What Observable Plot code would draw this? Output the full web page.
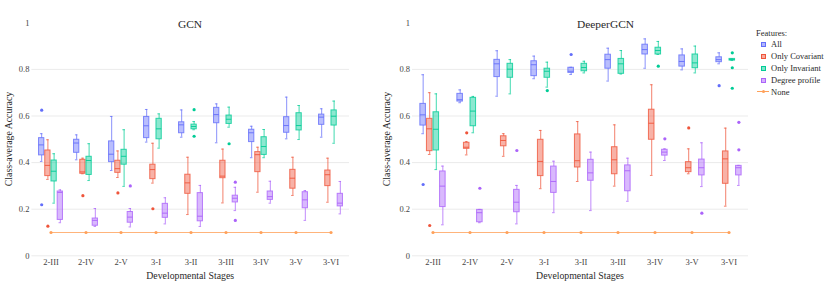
<!DOCTYPE html>
<html><head><meta charset="utf-8">
<script src="https://cdn.jsdelivr.net/npm/d3@7"></script>
<script src="https://cdn.jsdelivr.net/npm/@observablehq/plot@0.6"></script>
<style>
body{margin:0;background:#fff;}
#wrap{position:relative;width:830px;height:286px;font-family:'Liberation Serif';color:#2a2a2a;overflow:hidden;}
#wrap svg{position:absolute;top:0;}
#wrap svg text{font-family:'Liberation Serif';}
.abs{position:absolute;white-space:nowrap;line-height:1;font-family:'Liberation Serif';}
.lg{position:absolute;white-space:nowrap;line-height:1;font-size:8.5px;transform:translateY(-50%);font-family:'Liberation Serif';}
</style></head><body><div id="wrap"></div>
<script>
// ---------- data ----------
const stages = ["2-III","2-IV","2-V","3-I","3-II","3-III","3-IV","3-V","3-VI"];
const features = ["All","Only Covariant","Only Invariant","Degree profile"];
const featureColors = ["#636efa","#ef553b","#00cc96","#ab63fa"];
const noneColor = "#ffa15a";
const yTicks = [0,0.2,0.4,0.6,0.8,1];
const yGrid = [0,0.2,0.4,0.6,0.8];

// each row: [lower whisker, q1, median, q3, upper whisker] per stage
const gcnAll = [[0.405,0.431,0.476,0.505,0.524],[0.412,0.442,0.484,0.498,0.519],[0.366,0.402,0.436,0.491,0.598],[0.488,0.505,0.558,0.596,0.628],[0.509,0.526,0.562,0.573,0.626],[0.485,0.569,0.606,0.635,0.652],[0.421,0.488,0.528,0.541,0.556],[0.502,0.528,0.559,0.595,0.681],[0.509,0.562,0.595,0.606,0.631]];
const gcnCov = [[0.328,0.342,0.388,0.452,0.498],[0.352,0.352,0.360,0.412,0.419],[0.336,0.356,0.374,0.408,0.450],[0.312,0.329,0.370,0.391,0.483],[0.177,0.266,0.313,0.348,0.423],[0.227,0.333,0.342,0.408,0.458],[0.273,0.359,0.434,0.445,0.466],[0.259,0.288,0.333,0.369,0.423],[0.230,0.299,0.348,0.366,0.419]];
const gcnInv = [[0.226,0.319,0.363,0.409,0.438],[0.323,0.347,0.409,0.425,0.481],[0.298,0.391,0.427,0.455,0.541],[0.462,0.500,0.545,0.588,0.609],[0.541,0.543,0.555,0.563,0.576],[0.552,0.566,0.586,0.602,0.638],[0.421,0.433,0.469,0.509,0.542],[0.499,0.538,0.559,0.612,0.645],[0.483,0.559,0.599,0.624,0.664]];
const gcnDeg = [[0.142,0.154,0.272,0.276,0.283],[0.126,0.129,0.152,0.160,0.203],[0.124,0.142,0.166,0.188,0.203],[0.137,0.163,0.183,0.223,0.249],[0.126,0.148,0.170,0.269,0.302],[0.194,0.229,0.247,0.258,0.294],[0.226,0.240,0.254,0.276,0.320],[0.152,0.204,0.240,0.273,0.280],[0.180,0.212,0.226,0.266,0.319]];
const gcnOutliers = [
  ["All","2-III",0.625],["All","2-III",0.219],
  ["Only Covariant","2-III",0.127],["Only Covariant","2-IV",0.258],["Only Covariant","2-V",0.270],["Only Covariant","3-I",0.202],
  ["Only Invariant","3-II",0.627],["Only Invariant","3-II",0.513],["Only Invariant","3-III",0.481],
  ["Degree profile","2-V",0.300],["Degree profile","3-III",0.316],["Degree profile","3-III",0.152]
];
const gcnNone = [0.1,0.1,0.1,0.1,0.1,0.1,0.1,0.1,0.1];

const deepAll = [[0.524,0.559,0.605,0.652,0.777],[0.657,0.662,0.670,0.695,0.712],[0.685,0.767,0.824,0.841,0.880],[0.760,0.771,0.820,0.835,0.857],[0.778,0.785,0.792,0.807,0.809],[0.750,0.803,0.842,0.863,0.891],[0.805,0.864,0.885,0.906,0.931],[0.798,0.812,0.834,0.860,0.888],[0.824,0.831,0.842,0.852,0.871]];
const deepCov = [[0.435,0.449,0.545,0.588,0.700],[0.433,0.459,0.466,0.485,0.490],[0.427,0.470,0.495,0.513,0.524],[0.288,0.342,0.405,0.498,0.538],[0.319,0.379,0.408,0.521,0.576],[0.299,0.350,0.412,0.466,0.562],[0.345,0.498,0.569,0.627,0.734],[0.352,0.359,0.378,0.402,0.459],[0.213,0.309,0.416,0.448,0.548]];
const deepInv = [[0.370,0.452,0.543,0.616,0.695],[0.528,0.556,0.621,0.678,0.684],[0.695,0.764,0.801,0.824,0.842],[0.724,0.764,0.792,0.803,0.831],[0.785,0.792,0.808,0.824,0.835],[0.780,0.781,0.824,0.845,0.881],[0.864,0.864,0.881,0.893,0.920],[0.785,0.805,0.828,0.864,0.900],[0.838,0.838,0.842,0.845,0.845]];
const deepDeg = [[0.133,0.209,0.299,0.362,0.385],[0.142,0.144,0.185,0.197,0.199],[0.137,0.187,0.230,0.283,0.302],[0.185,0.270,0.319,0.383,0.406],[0.194,0.322,0.356,0.412,0.445],[0.234,0.277,0.365,0.388,0.419],[0.409,0.430,0.445,0.455,0.459],[0.297,0.345,0.378,0.413,0.485],[0.302,0.345,0.378,0.386,0.388]];
const deepOutliers = [
  ["All","2-III",0.306],["All","3-II",0.864],["All","3-VI",0.730],
  ["Only Covariant","2-III",0.130],["Only Covariant","2-IV",0.528],["Only Covariant","3-V",0.549],
  ["Only Invariant","3-I",0.709],["Only Invariant","3-IV",0.814],["Only Invariant","3-VI",0.871],["Only Invariant","3-VI",0.807],["Only Invariant","3-VI",0.719],
  ["Degree profile","2-IV",0.290],["Degree profile","2-V",0.452],["Degree profile","3-IV",0.502],["Degree profile","3-V",0.183],["Degree profile","3-VI",0.573],["Degree profile","3-VI",0.455]
];
const deepNone = [0.1,0.1,0.1,0.1,0.1,0.1,0.1,0.1,0.1];

// ---------- drawing ----------
const FONT = "'Liberation Serif'";
const wrap = document.getElementById("wrap");
const H = 286, MT = 22.3, MB = 30.7;

function panel({left, width, marginLeft, marginRight, stats, outliers, none}) {
  const bw = (width - marginLeft - marginRight) / stages.length;
  const step = 0.176 * bw, boxW = 0.158 * bw, capW = boxW * 0.5;
  const boxInset = (bw - boxW) / 2, capInset = (bw - capW) / 2;
  const marks = [Plot.ruleY(yGrid, {stroke: "#ebebeb", strokeWidth: 1})];
  const noneRows = stages.map((s, i) => ({stage: s, v: none[i]}));
  marks.push(Plot.line(noneRows, {x: "stage", y: "v", stroke: noneColor, strokeWidth: 1, strokeOpacity: 0.8}));
  marks.push(Plot.dot(noneRows, {x: "stage", y: "v", r: 1.6, fill: noneColor, stroke: "none"}));
  features.forEach((f, k) => {
    const c = featureColors[k];
    const dx = (k - 1.5) * step;
    const rows = stages.map((s, i) => {
      const [lo, q1, med, q3, hi] = stats[k][i];
      return {stage: s, lo, q1, med, q3, hi};
    });
    marks.push(Plot.ruleX(rows, {x: "stage", y1: "lo", y2: "q1", stroke: c, strokeWidth: 1, strokeOpacity: 0.75, dx}));
    marks.push(Plot.ruleX(rows, {x: "stage", y1: "q3", y2: "hi", stroke: c, strokeWidth: 1, strokeOpacity: 0.75, dx}));
    marks.push(Plot.tickY(rows, {x: "stage", y: "hi", stroke: c, strokeOpacity: 0.75, insetLeft: capInset, insetRight: capInset, dx}));
    marks.push(Plot.tickY(rows, {x: "stage", y: "lo", stroke: c, strokeOpacity: 0.75, insetLeft: capInset, insetRight: capInset, dx}));
    marks.push(Plot.barY(rows, {x: "stage", y1: "q1", y2: "q3", fill: c, fillOpacity: 0.45, stroke: c, strokeOpacity: 0.8, strokeWidth: 1, insetLeft: boxInset, insetRight: boxInset, dx}));
    marks.push(Plot.tickY(rows, {x: "stage", y: "med", stroke: c, strokeWidth: 1, strokeOpacity: 0.9, insetLeft: boxInset, insetRight: boxInset, dx}));
    const outs = outliers.filter(d => d[0] === f).map(d => ({stage: d[1], v: d[2]}));
    marks.push(Plot.dot(outs, {x: "stage", y: "v", r: 1.6, fill: c, stroke: "none", dx}));
  });
  marks.push(Plot.axisX({tickSize: 0, tickPadding: 3, label: null, fontSize: 8.5}));
  marks.push(Plot.axisY({ticks: yTicks, tickSize: 0, tickPadding: 2.5, label: null, fontSize: 8.5, tickFormat: d => String(d)}));
  const svg = Plot.plot({
    width, height: H, marginLeft, marginRight, marginTop: MT, marginBottom: MB,
    x: {type: "band", domain: stages, padding: 0},
    y: {domain: [0, 1]},
    style: {fontFamily: FONT, fontSize: "8.5px", color: "#444", background: "transparent", overflow: "visible"},
    marks
  });
  svg.setAttribute("font-family", FONT);
  svg.style.fontFamily = FONT;
  svg.style.left = left + "px";
  svg.querySelectorAll("text").forEach(t => { t.style.fontFamily = FONT; });
  wrap.appendChild(svg);
}

panel({left: 0, width: 360, marginLeft: 31.4, marginRight: 11, stats: [gcnAll, gcnCov, gcnInv, gcnDeg], outliers: gcnOutliers, none: gcnNone});
panel({left: 370, width: 390, marginLeft: 42, marginRight: 12, stats: [deepAll, deepCov, deepInv, deepDeg], outliers: deepOutliers, none: deepNone});

function text(str, x, y, size, opts = {}) {
  const d = document.createElement("div");
  d.className = "abs";
  d.textContent = str;
  d.style.fontFamily = FONT;
  d.style.left = x + "px";
  d.style.top = y + "px";
  d.style.fontSize = size + "px";
  d.style.transform = opts.rotate ? "translate(-50%,-50%) rotate(-90deg)" : "translate(-50%,-50%)";
  wrap.appendChild(d);
}
text("GCN", 190, 25, 11.4);
text("DeeperGCN", 605.5, 25, 11.4);
text("Developmental Stages", 190.2, 276, 9.8);
text("Developmental Stages", 580, 276, 9.8);
text("Class-average Accuracy", 8.5, 138.5, 9.8, {rotate: true});
text("Class-average Accuracy", 387, 138.5, 9.8, {rotate: true});

// legend
const lgX = 756, lgTop = 33;
const hdr = document.createElement("div");
hdr.className = "lg"; hdr.textContent = "Features:";
hdr.style.fontFamily = FONT;
hdr.style.left = lgX + "px"; hdr.style.top = lgTop + "px";
wrap.appendChild(hdr);
features.concat(["None"]).forEach((f, i) => {
  const y = lgTop + 11.3 + i * 11.9;
  const m = document.createElement("div");
  m.style.position = "absolute";
  if (i < features.length) {
    const c = featureColors[i];
    m.style.left = "760.5px"; m.style.top = (y - 2.5) + "px";
    m.style.width = "3.5px"; m.style.height = "3.5px";
    m.style.border = "1px solid " + c;
    m.style.background = c + "80";
  } else {
    m.style.left = "757px"; m.style.top = (y - 0.5) + "px";
    m.style.width = "12px"; m.style.height = "1px";
    m.style.background = noneColor;
    const dot = document.createElement("div");
    dot.style.position = "absolute"; dot.style.left = "4.5px"; dot.style.top = "-1.5px";
    dot.style.width = "3px"; dot.style.height = "3px"; dot.style.borderRadius = "50%";
    dot.style.background = noneColor;
    m.appendChild(dot);
  }
  wrap.appendChild(m);
  const t = document.createElement("div");
  t.className = "lg"; t.textContent = f;
  t.style.fontFamily = FONT;
  t.style.left = "771px"; t.style.top = y + "px";
  wrap.appendChild(t);
});
</script>
</body></html>
